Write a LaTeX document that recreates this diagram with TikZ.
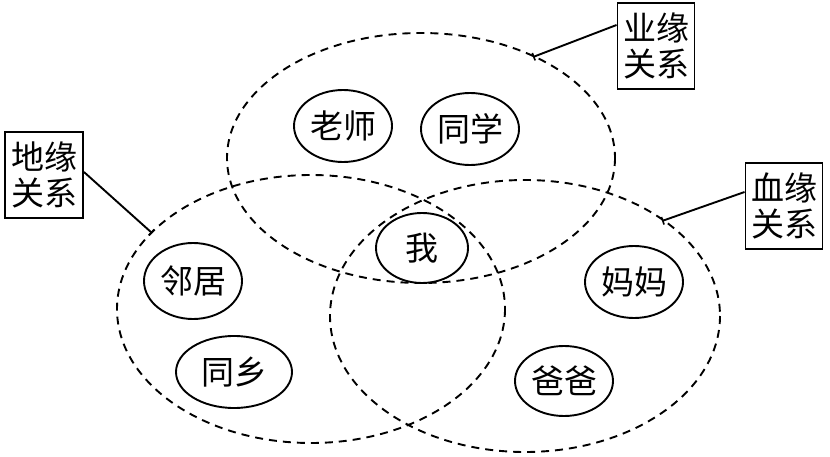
\documentclass[tikz,border=0pt]{standalone}
\usepackage{fontspec}
\newfontfamily\cjk{Noto Sans CJK SC}
\usetikzlibrary{shapes.geometric,arrows.meta}
\begin{document}
\begin{tikzpicture}[x=1pt,y=-1pt,
  bigring/.style={draw, line width=1.9pt, dash pattern=on 8pt off 6pt},
  person/.style={ellipse, draw, line width=1.9pt, inner sep=0pt, minimum width=98pt, minimum height=72pt, font=\cjk\fontsize{33}{33}\selectfont},
  tag/.style={draw, line width=1.9pt, inner sep=0pt, minimum width=77pt, minimum height=86pt, align=center, font=\cjk\fontsize{33}{36}\selectfont},
  leader/.style={line width=1.9pt, -{Bar[width=8pt,line width=1.6pt]}}]
\useasboundingbox (0,0) rectangle (830,457);
% large dashed ellipses
\draw[bigring] (421,158) ellipse [x radius=194, y radius=125];
\draw[bigring] (311,309) ellipse [x radius=194, y radius=134];
\draw[bigring] (525,316) ellipse [x radius=195, y radius=136];
% people
\node[person] (ls) at (343,126) {老师};
\node[person] (tx) at (470,129) {同学};
\node[person, minimum width=92pt, minimum height=70pt] (wo) at (422,248) {我};
\node[person, minimum height=76pt] (lj) at (193,281) {邻居};
\node[person, minimum width=116pt] (tl) at (234,372) {同乡};
\node[person] (mm) at (634,282) {妈妈};
\node[person, minimum height=70pt] (bb) at (564,381) {爸爸};
% tags
\node[tag] (yy) at (656,46) {业缘\\关系};
\node[tag, minimum width=78pt] (dy) at (44,175) {地缘\\关系};
\node[tag] (xy) at (784,206) {血缘\\关系};
% leader ends on the rings
\coordinate (yyend) at (533,57);
\coordinate (dyend) at (152,233);
\coordinate (xyend) at (662,221);
\draw[leader] ([yshift=21pt]yy.west) -- (yyend);
\draw[leader] ([yshift=3pt]dy.east) -- (dyend);
\draw[leader] ([yshift=14pt]xy.west) -- (xyend);
\end{tikzpicture}
\end{document}
